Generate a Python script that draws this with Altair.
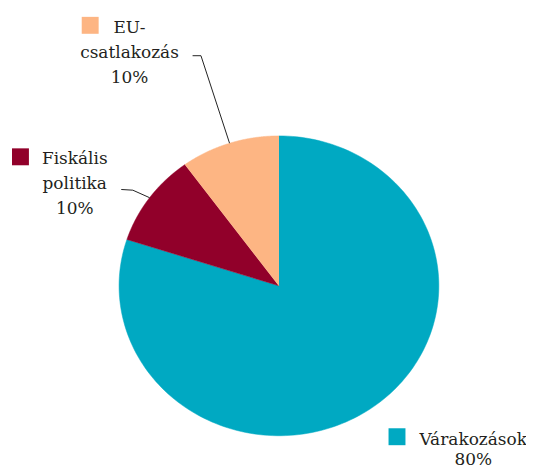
import altair as alt
import pandas as pd

# ---- data ----
categories = ["Várakozások", "Fiskális politika", "EU-csatlakozás"]
display_names = ["Várakozások", "Fiskális\npolitika", "EU-\ncsatlakozás"]
values = [80, 10, 10]
colors = ["#00A9C2", "#91002A", "#FDB583"]

# ---- layout (pixels, chart coordinates) ----
W, H = 520, 460
CX, CY, RX, RY = 272, 278, 160.5, 150.5
layout = [
    dict(tx=467, ty=438, lh=20, sq=(382, 421), leader=None),
    dict(tx=67, ty=156, lh=25, sq=(4, 140), leader=((113.7, 181.3), (125.3, 182))),
    dict(tx=122, ty=24, lh=25, sq=(74, 8), leader=((185.3, 47), (193.7, 47))),
]
FONT = "DejaVu Serif"
TXT = "#231F20"

df = pd.DataFrame({"cat": categories, "disp": display_names,
                   "value": values, "idx": list(range(len(categories)))})

xs = alt.Scale(domain=[-1, 1], range=[CX - RX, CX + RX], nice=False, zero=False)
ys = alt.Scale(domain=[-1, 1], range=[CY + RY, CY - RY], nice=False, zero=False)
cscale = alt.Scale(domain=categories, range=colors)

base = (
    alt.Chart(df)
    .transform_joinaggregate(total="sum(value)")
    .transform_window(cum="sum(value)", sort=[alt.SortField("idx")], frame=[None, 0])
    .transform_calculate(
        a0="2*PI*(datum.cum-datum.value)/datum.total",
        a1="2*PI*datum.cum/datum.total",
    )
    .transform_calculate(am="(datum.a0+datum.a1)/2")
)

wedges = (
    base.transform_calculate(t="sequence(-1, 181)")
    .transform_flatten(["t"])
    .transform_calculate(ang="datum.a0 + (datum.a1-datum.a0)*max(datum.t,0)/180")
    .transform_calculate(
        px="datum.t < 0 ? 0 : sin(datum.ang)",
        py="datum.t < 0 ? 0 : cos(datum.ang)",
    )
    .mark_line(strokeWidth=0.5, interpolate="linear")
    .encode(
        x=alt.X("px:Q", scale=xs, axis=None),
        y=alt.Y("py:Q", scale=ys, axis=None),
        fill=alt.Fill("cat:N", scale=cscale, legend=None),
        stroke=alt.Stroke("cat:N", scale=cscale, legend=None),
        detail="cat:N",
        order=alt.Order("t:Q"),
    )
)

layers = [wedges]
for i, L in enumerate(layout):
    row = base.transform_filter(f"datum.idx == {i}")
    sx, sy = L["sq"]
    layers.append(
        row.mark_rect().encode(
            x=alt.value(sx), x2=alt.value(sx + 17),
            y=alt.value(sy), y2=alt.value(sy + 17),
            fill=alt.Fill("cat:N", scale=cscale, legend=None),
        )
    )
    layers.append(
        row.transform_calculate(
            label="datum.disp + '\\n' + format(datum.value/datum.total, '.0%')"
        )
        .mark_text(font=FONT, fontSize=17, color=TXT, align="center",
                   baseline="alphabetic", lineBreak="\n", lineHeight=L["lh"])
        .encode(x=alt.value(L["tx"]), y=alt.value(L["ty"]), text="label:N")
    )
    if L["leader"]:
        (p0, p1) = L["leader"]
        edge = row.transform_calculate(ex="sin(datum.am)", ey="cos(datum.am)")
        layers.append(
            edge.mark_rule(color="#222", strokeWidth=1).encode(
                x=alt.X("ex:Q", scale=xs, axis=None),
                y=alt.Y("ey:Q", scale=ys, axis=None),
                x2=alt.value(p1[0]), y2=alt.value(p1[1]),
            )
        )
        layers.append(
            row.mark_rule(color="#222", strokeWidth=1).encode(
                x=alt.value(p0[0]), x2=alt.value(p1[0]),
                y=alt.value(p0[1]), y2=alt.value(p1[1]),
            )
        )

chart = (
    alt.layer(*layers)
    .properties(width=W, height=H, autosize=alt.AutoSizeParams(type="none"), padding=0)
    .configure(font=FONT)
    .configure_view(stroke=None)
)

chart.save("out.html", embed_options={"renderer": "svg", "actions": False})
